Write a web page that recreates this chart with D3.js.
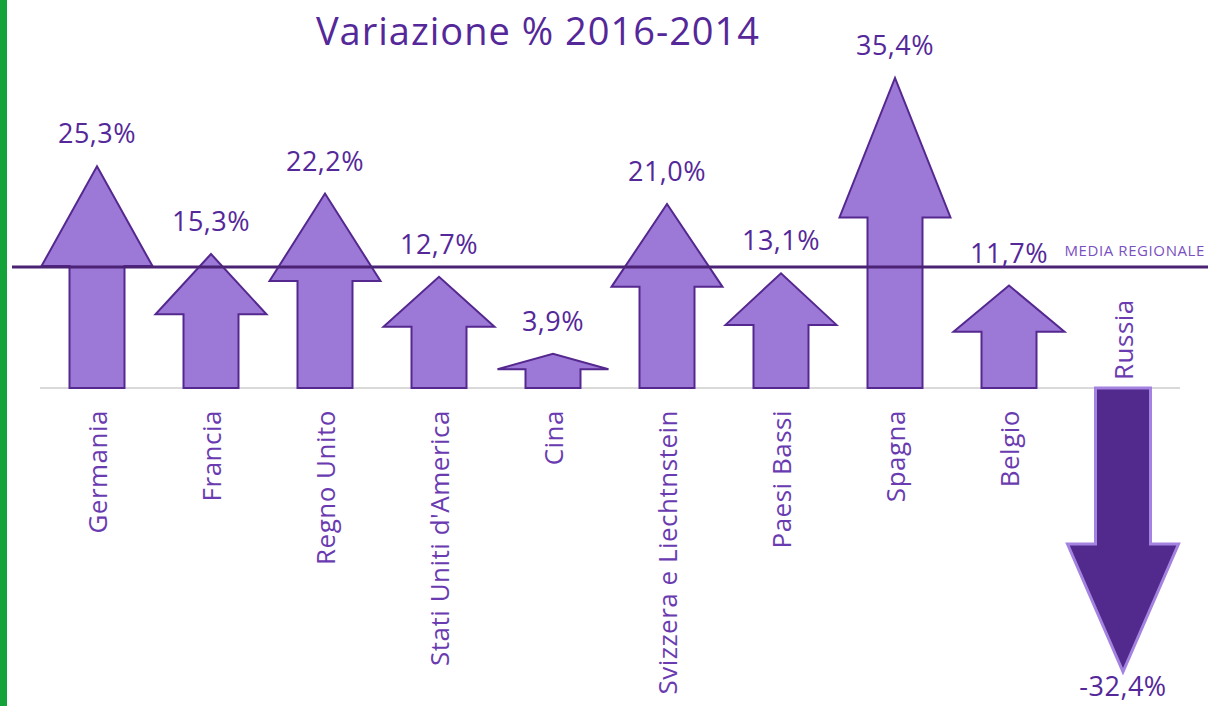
<!DOCTYPE html>
<html><head><meta charset="utf-8">
<script src="https://d3js.org/d3.v7.min.js"></script>
<style>body{margin:0;background:#fff;}svg{display:block;}</style>
</head><body>
<script>
const categories = ["Germania","Francia","Regno Unito","Stati Uniti d'America","Cina","Svizzera e Liechtnstein","Paesi Bassi","Spagna","Belgio","Russia"];
const values = [25.3, 15.3, 22.2, 12.7, 3.9, 21.0, 13.1, 35.4, 11.7, -32.4];
const valueLabels = ["25,3%","15,3%","22,2%","12,7%","3,9%","21,0%","13,1%","35,4%","11,7%","-32,4%"];
const mediaRegionale = 13.8;
const title = "Variazione % 2016-2014";

const W = 1208, H = 706;
const font = "'Open Sans', 'Noto Sans', sans-serif";
const svg = d3.select("body").append("svg").attr("width", W).attr("height", H);

const x = d3.scaleBand().domain(categories).range([40, 1180]);
const y = d3.scaleLinear().domain([-35, 40]).range([388 + 35 * 8.76, 388 - 40 * 8.76]);

// green left bar
svg.append("rect").attr("x", 0).attr("y", 0).attr("width", 7).attr("height", H).attr("fill", "#14a33b");

// title
svg.append("text").attr("x", 538).attr("y", 45).attr("text-anchor", "middle")
  .attr("font-family", font).attr("font-size", 38).attr("letter-spacing", 1)
  .attr("fill", "#55289a").text(title);

// baseline
svg.append("line").attr("x1", 40).attr("x2", 1180).attr("y1", y(0)).attr("y2", y(0))
  .attr("stroke", "#d9d9d9").attr("stroke-width", 2);

const shaftW = 55, headW = 111;
function arrowPath(cx, v) {
  const y0 = y(0), yt = y(v);
  const len = yt - y0;
  const yh = yt - len * 0.45;
  return `M${cx - shaftW/2},${y0} L${cx - shaftW/2},${yh} L${cx - headW/2},${yh} L${cx},${yt} L${cx + headW/2},${yh} L${cx + shaftW/2},${yh} L${cx + shaftW/2},${y0} Z`;
}

const data = categories.map((c, i) => ({c, v: values[i], l: valueLabels[i]}));

svg.selectAll("path.arrow").data(data).enter().append("path")
  .attr("class", "arrow")
  .attr("d", d => arrowPath(x(d.c) + x.bandwidth()/2, d.v))
  .attr("fill", d => d.v >= 0 ? "#9c78d7" : "#52298c")
  .attr("stroke", d => d.v >= 0 ? "#55288f" : "#a482e0")
  .attr("stroke-width", d => d.v >= 0 ? 2 : 3)
  .attr("stroke-linejoin", "miter");

// media regionale line
svg.append("line").attr("x1", 12).attr("x2", W).attr("y1", y(mediaRegionale)).attr("y2", y(mediaRegionale))
  .attr("stroke", "#4b2375").attr("stroke-width", 3);
svg.append("text").attr("x", 1205).attr("y", y(mediaRegionale) - 11).attr("text-anchor", "end")
  .attr("font-family", font).attr("font-size", 15).attr("letter-spacing", 0.6)
  .attr("fill", "#7a50c0").text("MEDIA REGIONALE");

// value labels
svg.selectAll("text.val").data(data).enter().append("text")
  .attr("class", "val")
  .attr("x", d => x(d.c) + x.bandwidth()/2)
  .attr("y", d => d.v >= 0 ? y(d.v) - 23 : y(d.v) + 24)
  .attr("text-anchor", "middle")
  .attr("font-family", font).attr("font-size", 27).attr("letter-spacing", 0.5)
  .attr("fill", "#55289a")
  .text(d => d.l);

// category labels
svg.selectAll("text.cat").data(data).enter().append("text")
  .attr("class", "cat")
  .attr("transform", d => {
    const cx = x(d.c) + x.bandwidth()/2;
    return d.v >= 0 ? `translate(${cx},${y(0) + 22}) rotate(-90)` : `translate(${cx},${y(0) - 8}) rotate(-90)`;
  })
  .attr("text-anchor", d => d.v >= 0 ? "end" : "start")
  .attr("dominant-baseline", "central")
  .attr("font-family", font).attr("font-size", 26).attr("letter-spacing", 0.5)
  .attr("fill", "#6a3bb0")
  .text(d => d.c);
</script>
</body></html>
